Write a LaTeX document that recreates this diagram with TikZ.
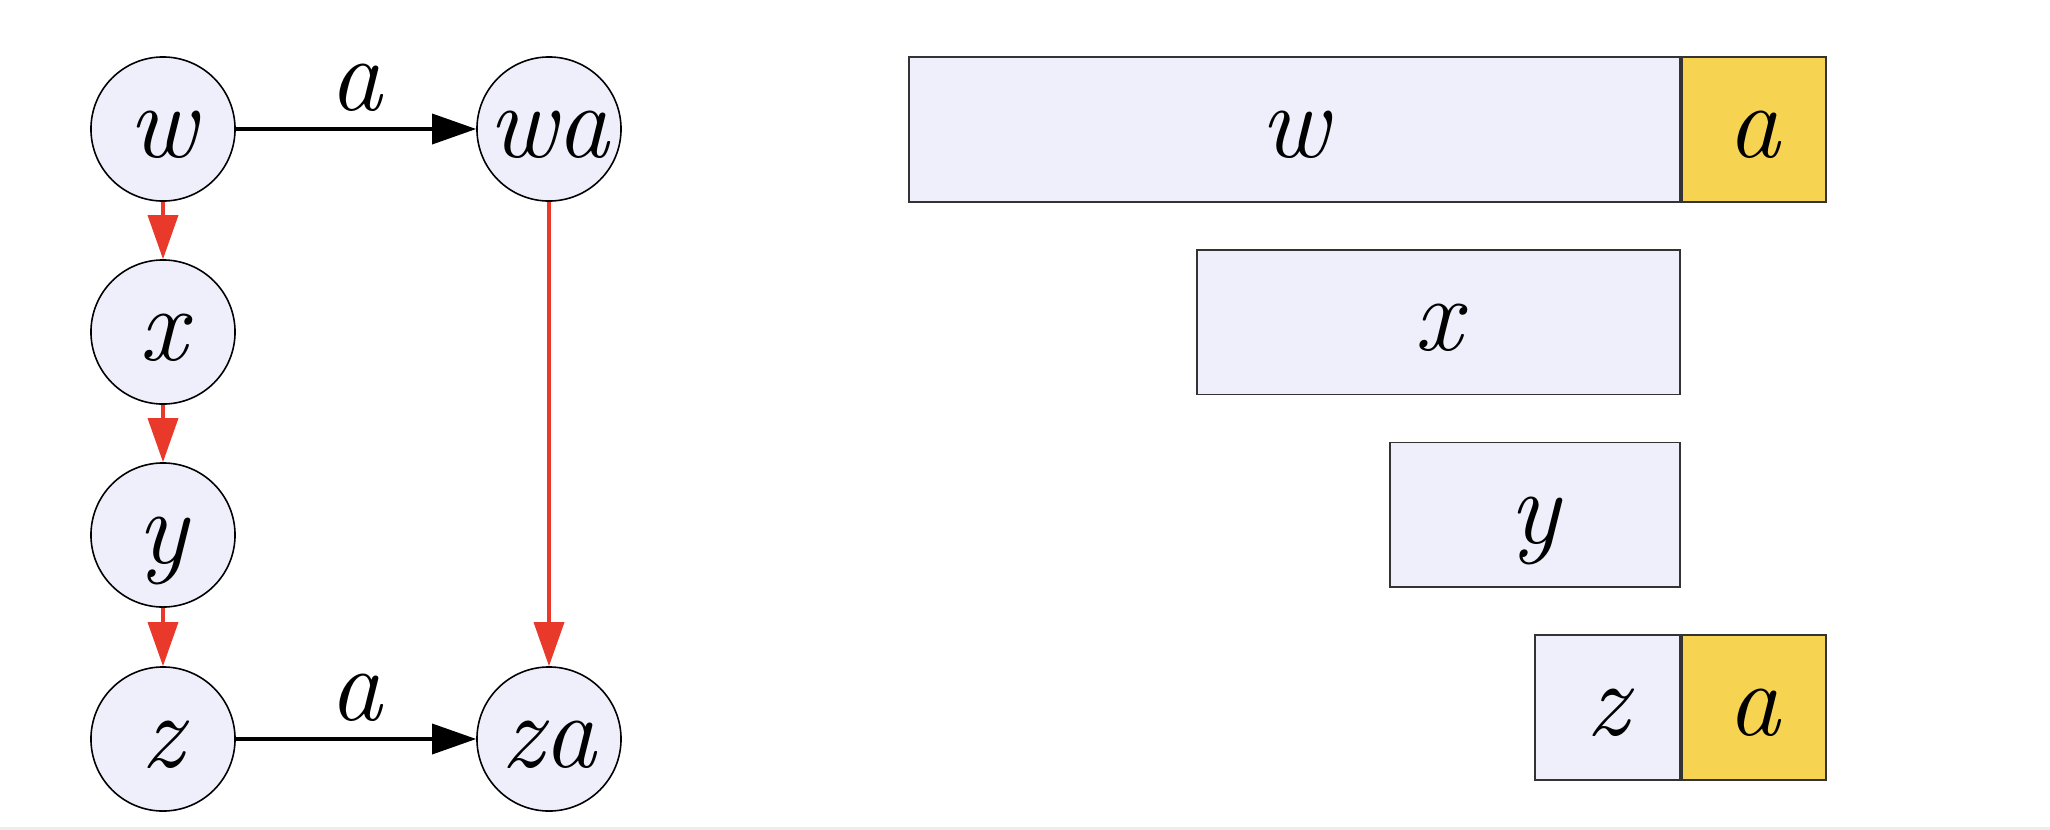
\documentclass[tikz,border=0pt]{standalone}
\usepackage{fontspec}
\usepackage{tikz}
\usetikzlibrary{arrows.meta}
\definecolor{cellblue}{HTML}{EFEFFC}
\definecolor{cellgold}{HTML}{F6D350}
\definecolor{edgered}{HTML}{E8392A}
\def\Lx{163}
\def\Rx{549}
\def\Bx{1681}
\def\RowA{129.6}
\def\RowB{322.2}
\def\RowC{514.9}
\def\RowD{707.5}

\tikzset{
  state/.style={circle, draw=black, line width=0.45pt, fill=cellblue,
    minimum size=1.44cm, inner sep=0pt, text height=16pt, text depth=0pt,
    font=\fontsize{30}{34}\selectfont\itshape},
  cell/.style={rectangle, draw=black!80, line width=0.5pt, fill=cellblue,
    minimum height=1.445cm, inner sep=0pt, text height=16pt, text depth=0pt,
    font=\fontsize{30}{34}\selectfont\itshape},
  gold/.style={fill=cellgold},
  flow/.style={-{Triangle[length=0.44cm,width=0.3cm]}, line width=1pt},
  redflow/.style={flow, draw=edgered, color=edgered},
  lab/.style={above=4.5pt, inner sep=0pt, font=\fontsize{30}{34}\selectfont\itshape}
}

\begin{document}
\begin{tikzpicture}[x=0.01cm, y=-0.01cm]
\useasboundingbox (0,0) rectangle (2050,830);
\fill[black!7] (0,827) rectangle (2050,830);

% states
\node[state] (w) at (\Lx, 129) {w};
\node[state] (x) at (\Lx, 332) {x};
\node[state] (y) at (\Lx, 535) {y};
\node[state] (z) at (\Lx, 739) {z};
\node[state] (wa) at (\Rx, 129) {wa};
\node[state] (za) at (\Rx, 739) {za};

\draw[flow] (w) -- node[lab] {a} (wa);
\draw[flow] (z) -- node[lab] {a} (za);
\draw[redflow] (w) -- (x);
\draw[redflow] (x) -- (y);
\draw[redflow] (y) -- (z);
\draw[redflow] (wa) -- (za);

% words
\node[cell, minimum width=7.71cm, anchor=east] (bw) at (\Bx, \RowA) {w};
\node[cell, gold, minimum width=1.44cm, anchor=west] (bwa) at (bw.east) {a};
\node[cell, minimum width=4.83cm, anchor=east] (bx) at (\Bx, \RowB) {x};
\node[cell, minimum width=2.90cm, anchor=east] (by) at (\Bx, \RowC) {y};
\node[cell, minimum width=1.45cm, anchor=east] (bz) at (\Bx, \RowD) {z};
\node[cell, gold, minimum width=1.44cm, anchor=west] (bza) at (bz.east) {a};
\end{tikzpicture}
\end{document}
